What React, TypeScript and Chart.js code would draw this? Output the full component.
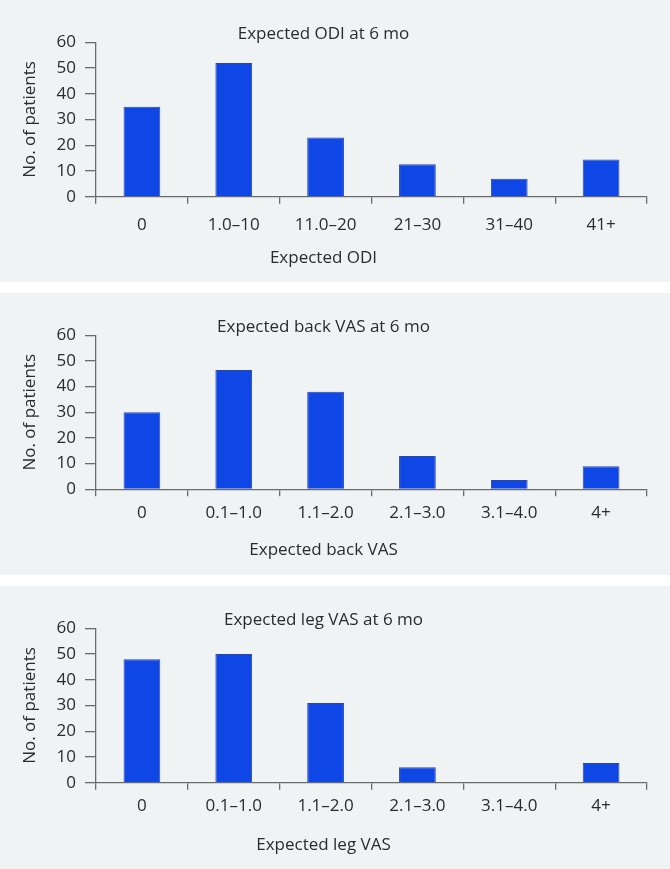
import React, { useEffect, useRef } from "react";
import { Chart, registerables } from "chart.js";

Chart.register(...registerables);

// ---- data ----
const odiCategories = ["0", "1.0–10", "11.0–20", "21–30", "31–40", "41+"];
const odiValues = [35, 52, 23, 12.6, 7, 14.5];

const vasCategories = ["0", "0.1–1.0", "1.1–2.0", "2.1–3.0", "3.1–4.0", "4+"];
const backVasValues = [30, 46.5, 38, 13, 3.6, 9];
const legVasValues = [48, 50, 31, 6, 0, 7.7];

const yMin = 0;
const yMax = 60;
const yStep = 10;
const yAxisTitle = "No. of patients";

// ---- styles ----
const FONT = "'Open Sans', sans-serif";
const TEXT = "#2b2b2b";
const AXIS = "#6b6b6b";
const BAR = "#0f46e6";
const BAR_EDGE = "#2a46a8";
const PANEL_BG = "#eff3f4";

type PanelProps = {
  top: number;
  height: number;
  title: string;
  xLabel: string;
  labels: string[];
  values: number[];
  subPadBottom: number;
  xAxisHeight: number;
  xTickPad: number;
};

function Panel(p: PanelProps) {
  const ref = useRef<HTMLCanvasElement | null>(null);

  useEffect(() => {
    if (!ref.current) return;
    const font = { family: FONT, size: 17, weight: "normal" as const, lineHeight: 1.2 };
    const chart = new Chart(ref.current, {
      type: "bar",
      data: {
        labels: p.labels,
        datasets: [
          {
            data: p.values,
            backgroundColor: BAR,
            borderColor: BAR_EDGE,
            borderWidth: 1,
            categoryPercentage: 1,
            barPercentage: 0.4,
          },
        ],
      },
      options: {
        animation: false,
        responsive: false,
        maintainAspectRatio: false,
        layout: { padding: { left: 0, right: 15, top: 0, bottom: 0 } },
        plugins: {
          legend: { display: false },
          tooltip: { enabled: false },
          title: {
            display: true,
            text: p.title,
            color: TEXT,
            font,
            padding: { top: 24, bottom: -2.1 },
          },
          subtitle: {
            display: true,
            position: "bottom",
            text: p.xLabel,
            color: TEXT,
            font,
            padding: { top: 0, bottom: p.subPadBottom },
          },
        },
        scales: {
          x: {
            grid: {
              display: true,
              drawOnChartArea: false,
              drawTicks: true,
              tickLength: 7,
              color: AXIS,
              lineWidth: 1.3,
              offset: true,
            },
            border: { display: true, color: AXIS, width: 1.3 },
            ticks: { color: TEXT, font, padding: p.xTickPad, maxRotation: 0, autoSkip: false },
            afterFit: (s: any) => {
              s.height = p.xAxisHeight;
            },
          },
          y: {
            min: yMin,
            max: yMax,
            ticks: { stepSize: yStep, color: TEXT, font, padding: 9 },
            grid: {
              display: true,
              drawOnChartArea: false,
              drawTicks: true,
              tickLength: 11,
              color: AXIS,
              lineWidth: 1.3,
            },
            border: { display: true, color: AXIS, width: 1.3 },
            title: {
              display: true,
              text: yAxisTitle,
              color: TEXT,
              font,
              padding: { top: 19.8, bottom: 0 },
            },
            afterFit: (s: any) => {
              s.width = 96;
            },
          },
        },
      } as any,
    });
    return () => chart.destroy();
  }, []);

  return (
    <div
      style={{
        position: "absolute",
        left: 0,
        top: p.top,
        width: 670,
        height: p.height,
        background: PANEL_BG,
      }}
    >
      <canvas ref={ref} width={662} height={p.height} style={{ display: "block" }} />
    </div>
  );
}

export default function App() {
  return (
    <div style={{ position: "absolute", left: 0, top: 0, width: 670, height: 869, background: "#ffffff" }}>
      <Panel
        top={0}
        height={282}
        title="Expected ODI at 6 mo"
        xLabel="Expected ODI"
        labels={odiCategories}
        values={odiValues}
        subPadBottom={13.6}
        xAxisHeight={51.3}
        xTickPad={10.8}
      />
      <Panel
        top={293}
        height={282}
        title="Expected back VAS at 6 mo"
        xLabel="Expected back VAS"
        labels={vasCategories}
        values={backVasValues}
        subPadBottom={14.3}
        xAxisHeight={51}
        xTickPad={6.3}
      />
      <Panel
        top={586}
        height={283}
        title="Expected leg VAS at 6 mo"
        xLabel="Expected leg VAS"
        labels={vasCategories}
        values={legVasValues}
        subPadBottom={14}
        xAxisHeight={51.9}
        xTickPad={6.3}
      />
    </div>
  );
}
